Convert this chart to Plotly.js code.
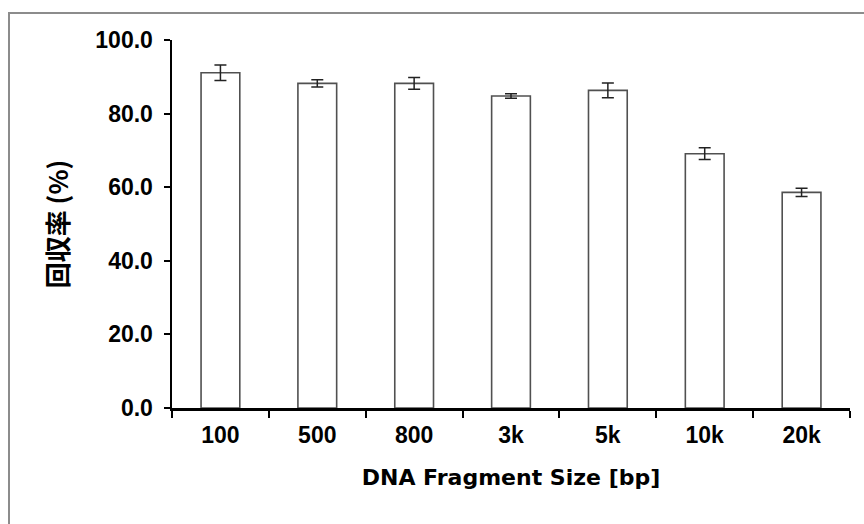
<!DOCTYPE html>
<html>
<head>
<meta charset="utf-8">
<script src="https://cdn.plot.ly/plotly-3.0.1.min.js"></script>
<style>
html,body{margin:0;padding:0;background:#fff;}
#wrap{position:relative;width:864px;height:524px;overflow:hidden;}
#chart{position:absolute;left:0;top:0;width:864px;height:524px;}
#frame{position:absolute;left:8px;top:12px;width:900px;height:600px;border-left:2px solid #8c8c8c;border-top:2px solid #8c8c8c;pointer-events:none;}
</style>
</head>
<body>
<div id="wrap"><div id="chart"></div><div id="frame"></div></div>
<script>
const categories = ["100", "500", "800", "3k", "5k", "10k", "20k"];
const recovery = [91.1, 88.2, 88.2, 84.8, 86.3, 69.1, 58.6];
const errors = [2.1, 1.0, 1.6, 0.6, 2.0, 1.6, 1.1];
const yTitle = "回収率 (%)";
const xTitle = "DNA Fragment Size [bp]";

const trace = {
  type: "bar",
  x: categories,
  y: recovery,
  width: 0.4,
  marker: {color: "#ffffff", line: {color: "#505050", width: 1.6}},
  error_y: {type: "data", array: errors, visible: true, color: "#222222", thickness: 1.5, width: 6},
  hoverinfo: "none"
};

const layout = {
  width: 864, height: 524,
  margin: {l: 172, r: 14, t: 40, b: 116},
  paper_bgcolor: "#ffffff", plot_bgcolor: "#ffffff",
  showlegend: false,
  font: {family: "Liberation Sans, Arial, sans-serif", color: "#000"},
  xaxis: {
    type: "category",
    range: [-0.5, 6.5],
    tickson: "boundaries",
    ticks: "outside", ticklen: 7, tickwidth: 2, tickcolor: "#000",
    ticklabelstandoff: 5,
    showline: true, linecolor: "#000", linewidth: 2.5,
    showgrid: false, zeroline: false,
    tickfont: {family: "Liberation Sans, Arial, sans-serif", size: 23, weight: "bold", color: "#000"},
    title: {text: xTitle, standoff: 23, font: {family: "DejaVu Sans, Verdana, sans-serif", size: 22, weight: "bold", color: "#000"}}
  },
  yaxis: {
    range: [0, 100], dtick: 20, tickformat: ".1f",
    ticks: "outside", ticklen: 6, tickwidth: 2, tickcolor: "#000",
    ticklabelstandoff: 6,
    showline: true, linecolor: "#000", linewidth: 2.5,
    showgrid: false, zeroline: false,
    tickfont: {family: "Liberation Sans, Arial, sans-serif", size: 23, weight: "bold", color: "#000"},
    title: {text: yTitle, standoff: 19, font: {family: "Noto Sans CJK JP, sans-serif", size: 26, weight: "bold", color: "#000"}}
  }
};

Plotly.newPlot("chart", [trace], layout, {staticPlot: true, displayModeBar: false});
</script>
</body>
</html>
